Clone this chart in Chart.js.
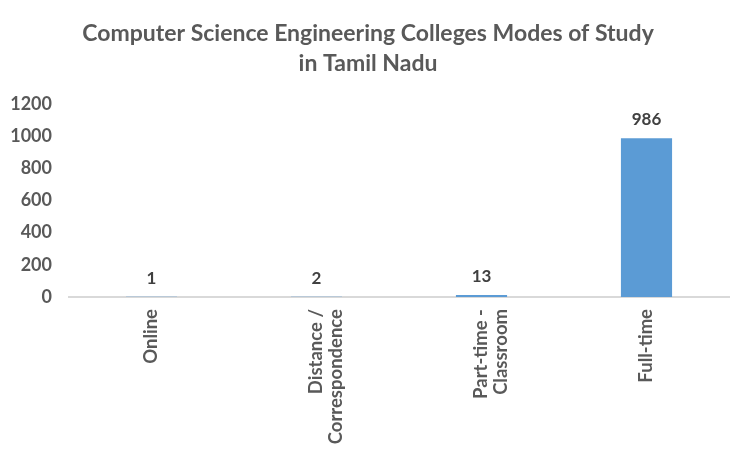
<!DOCTYPE html>
<html>
<head>
<meta charset="utf-8">
<script src="https://cdn.jsdelivr.net/npm/chart.js@4"></script>
<style>
  html, body { margin: 0; padding: 0; background: #fff; }
  #wrap { width: 750px; height: 450px; position: relative; }
</style>
</head>
<body>
<div id="wrap"><canvas id="modesChart"></canvas></div>
<script>
// chart data
const categories = ["Online", ["Distance /", "Correspondence"], ["Part-time -", "Classroom"], "Full-time"];
const colleges = [1, 2, 13, 986];
const yTicks = [0, 200, 400, 600, 800, 1000, 1200];

const FONT = "Lato, 'Open Sans', sans-serif";

// draws the value above each bar
const valueLabels = {
  id: "valueLabels",
  afterDatasetsDraw(chart) {
    const ctx = chart.ctx;
    const meta = chart.getDatasetMeta(0);
    ctx.save();
    ctx.font = "bold 17px " + FONT;
    ctx.fillStyle = "#404040";
    ctx.textAlign = "center";
    ctx.textBaseline = "bottom";
    meta.data.forEach((bar, i) => {
      ctx.fillText(colleges[i], bar.x, bar.y - 10);
    });
    ctx.restore();
  }
};

new Chart(document.getElementById("modesChart"), {
  type: "bar",
  data: {
    labels: categories,
    datasets: [{
      label: "Colleges",
      data: colleges,
      backgroundColor: "#5B9BD5",
      borderWidth: 0,
      barPercentage: 0.31,
      categoryPercentage: 1
    }]
  },
  options: {
    responsive: true,
    maintainAspectRatio: false,
    animation: false,
    layout: { padding: { left: 7, right: 21, top: 4, bottom: 0 } },
    scales: {
      x: {
        grid: { display: false, drawTicks: false },
        border: { color: "#d9d9d9", width: 2 },
        afterFit(axis) {
          axis.height = 153;
        },
        ticks: {
          minRotation: 90,
          maxRotation: 90,
          padding: 12,
          color: "#595959",
          font: { family: FONT, size: 18.5, weight: "bold", lineHeight: 1.05 }
        }
      },
      y: {
        min: 0,
        max: 1200,
        grid: { display: false, drawTicks: false },
        border: { display: false },
        afterBuildTicks(axis) {
          axis.ticks = yTicks.map(v => ({ value: v }));
        },
        afterFit(axis) {
          axis.width = 62;
        },
        ticks: {
          padding: 17,
          color: "#595959",
          font: { family: FONT, size: 18, weight: "bold" },
          callback: (v) => String(v)
        }
      }
    },
    plugins: {
      legend: { display: false },
      tooltip: { enabled: false },
      title: {
        display: true,
        text: ["Computer Science Engineering Colleges Modes of Study", "in Tamil Nadu"],
        color: "#595959",
        font: { family: FONT, size: 23, weight: "bold", lineHeight: 1.3 },
        padding: { top: 15, bottom: 25 }
      }
    }
  },
  plugins: [valueLabels]
});
</script>
</body>
</html>
